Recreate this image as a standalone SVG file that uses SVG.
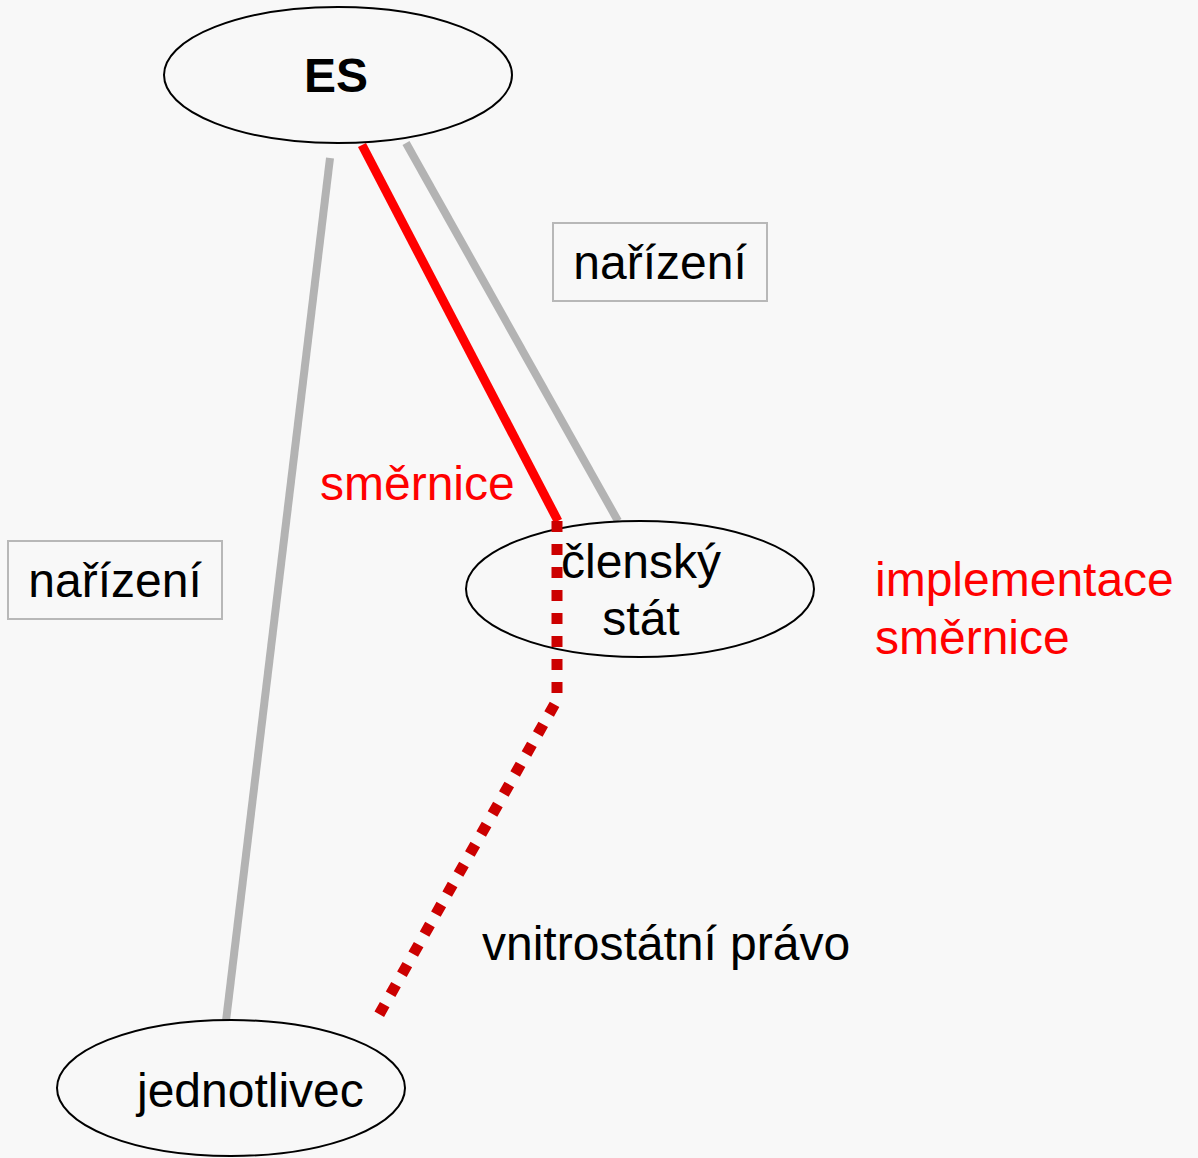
<svg xmlns="http://www.w3.org/2000/svg" width="1198" height="1158" viewBox="0 0 1198 1158">
<style>
.t{font-family:"Liberation Sans",Arial,sans-serif;font-size:48px;fill:#000}
.r{fill:#ff0000}
.node{fill:#f8f8f8;stroke:#000;stroke-width:2}
.box{fill:none;stroke:#b8b8b8;stroke-width:2}
.g{stroke:#b3b3b3;stroke-width:8;fill:none}
</style>
<rect width="1198" height="1158" fill="#f8f8f8"/>
<g id="connectors">
<line class="g" x1="330" y1="158" x2="226" y2="1021"/>
<line class="g" x1="406" y1="143" x2="618" y2="521"/>
<line x1="362" y1="145" x2="558" y2="521" stroke="#ff0000" stroke-width="9"/>
</g>
<g id="node-es">
<ellipse class="node" cx="338" cy="75" rx="174" ry="68"/>
<text class="t" x="336" y="92" text-anchor="middle" font-weight="bold" font-size="46">ES</text>
</g>
<g id="node-clensky-stat">
<ellipse class="node" cx="640" cy="589" rx="174" ry="68"/>
<text class="t" x="641" y="578" text-anchor="middle">členský</text>
<text class="t" x="641" y="635" text-anchor="middle">stát</text>
</g>
<g id="node-jednotlivec">
<ellipse class="node" cx="231" cy="1088" rx="174" ry="68"/>
<text class="t" x="137" y="1107">jednotlivec</text>
</g>
<g id="dotted-connector">
<polyline points="557,521 557,700 376,1020" fill="none" stroke="#cc0000" stroke-width="11" stroke-dasharray="11 12"/>
</g>
<g id="label-narizeni-right">
<rect class="box" x="553" y="223" width="214" height="78"/>
<text class="t" x="660" y="279" text-anchor="middle">nařízení</text>
</g>
<g id="label-narizeni-left">
<rect class="box" x="8" y="541" width="214" height="78"/>
<text class="t" x="115" y="597" text-anchor="middle">nařízení</text>
</g>
<g id="labels">
<text class="t r" x="320" y="500">směrnice</text>
<text class="t r" x="875" y="596">implementace</text>
<text class="t r" x="875" y="654">směrnice</text>
<text class="t" x="482" y="960">vnitrostátní právo</text>
</g>
</svg>
